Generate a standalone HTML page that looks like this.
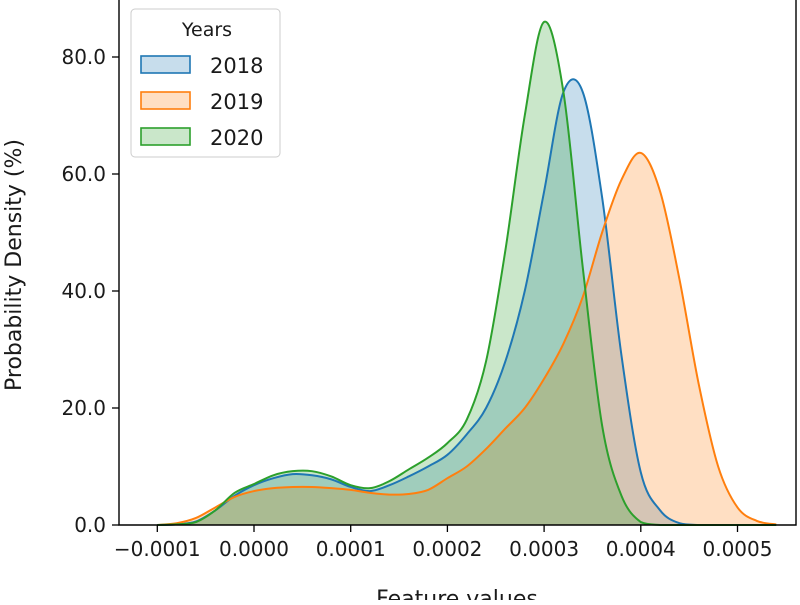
<!DOCTYPE html>
<html><head><meta charset="utf-8"><style>
body{margin:0;background:#fff}
svg{font-family:"DejaVu Sans","Liberation Sans",sans-serif}
</style></head><body>
<svg id="chart" width="800" height="600" viewBox="0 0 800 600" xmlns="http://www.w3.org/2000/svg">
<g id="plot"></g>
<g id="axes"></g>
<g id="legend"></g>
</svg>
<script>
const xGrid = [-10,-8,-6,-4,-2,0,2,4,6,8,10,12,14,16,18,20,22,24,26,28,30,32,34,36,38,40,42,44,46,48,50,52,54];
const s2018 = [0,0.1,0.6,2.5,5,6.8,8,8.7,8.5,7.8,6.5,5.8,6.8,8.3,10,12,15.5,20,28,40,57,74,74,56,29,9,2.5,0.3,0,0,0,0,0];
const s2019 = [0,0.3,1.2,3,4.8,5.8,6.3,6.5,6.5,6.3,6,5.5,5.2,5.3,6,8,10,13,16.5,20,25,31,39,50,59,63.6,57,42,24,10,3,0.7,0.1];
const s2020 = [0,0.1,0.5,2.5,5.5,7,8.5,9.2,9.2,8.3,6.8,6.3,7.5,9.5,11.5,14,18,28,47,70,86,74,44,17,5,0.5,0,0,0,0,0,0,0];
const yTicks = [0,20,40,60,80];
const yTickLabels = ["0.0","20.0","40.0","60.0","80.0"];
const xTicks = [-1,0,1,2,3,4,5];
const xTickLabels = ["\u22120.0001","0.0000","0.0001","0.0002","0.0003","0.0004","0.0005"];
const seriesNames = ["2018","2019","2020"];
const colors = ["#1f77b4","#ff7f0e","#2ca02c"];

const X0=254, PX=96.7, Y0=525, PY=5.85, L=119, R=796, B=525;
const xs = k => X0 + PX*k/10;
const xt = t => X0 + PX*t;
const ys = v => Y0 - PY*v;
const NS="http://www.w3.org/2000/svg";
function mk(tag, attrs, parent){const e=document.createElementNS(NS,tag);for(const a in attrs)e.setAttribute(a,attrs[a]);parent.appendChild(e);return e;}

function pathFor(vals){
  const p = xGrid.map((k,i)=>[xs(k),ys(vals[i])]);
  let d=`M${p[0][0]},${p[0][1]}`;
  for(let i=0;i<p.length-1;i++){
    const p0=p[Math.max(0,i-1)],p1=p[i],p2=p[i+1],p3=p[Math.min(p.length-1,i+2)];
    let c1y=p1[1]+(p2[1]-p0[1])/6, c2y=p2[1]-(p3[1]-p1[1])/6;
    c1y=Math.min(c1y,Y0); c2y=Math.min(c2y,Y0);
    d+=` C${p1[0]+(p2[0]-p0[0])/6},${c1y} ${p2[0]-(p3[0]-p1[0])/6},${c2y} ${p2[0]},${p2[1]}`;
  }
  return d;
}
const plot=document.getElementById('plot');
const all=[s2018,s2019,s2020];
all.forEach((vals,i)=>{
  const d=pathFor(vals);
  const f=mk('path',{d:d+` L${xs(xGrid[xGrid.length-1])},${Y0} L${xs(xGrid[0])},${Y0} Z`,fill:colors[i],'fill-opacity':0.25,stroke:'none'},plot);
  
  
});
all.forEach((vals,i)=>{
  const l=mk('path',{d:pathFor(vals),fill:'none',stroke:colors[i],'stroke-width':2},plot);
  
  
});

const axes=document.getElementById('axes');
const sp=mk('path',{d:`M${L},0 L${L},${B} L${R},${B} L${R},0`,fill:'none',stroke:'#000','stroke-width':1.4},axes);


yTicks.forEach((v,i)=>{
  mk('line',{x1:L-7,x2:L,y1:ys(v),y2:ys(v),stroke:'#000','stroke-width':1.3},axes);
  const t=mk('text',{x:L-13,y:ys(v)+7,'text-anchor':'end','font-size':20,fill:'#1a1a1a'},axes);
  t.textContent=yTickLabels[i];
  
  
});
xTicks.forEach((v,i)=>{
  mk('line',{x1:xt(v),x2:xt(v),y1:B,y2:B+7,stroke:'#000','stroke-width':1.3},axes);
  const t=mk('text',{x:xt(v),y:B+31,'text-anchor':'middle','font-size':20,fill:'#1a1a1a'},axes);
  t.textContent=xTickLabels[i];
  
  
});
const xl=mk('text',{x:457,y:606,'text-anchor':'middle','font-size':22,fill:'#1a1a1a'},axes);
xl.textContent='Feature values';


const yl=mk('text',{x:0,y:0,transform:'translate(21,265) rotate(-90)','text-anchor':'middle','font-size':22,fill:'#1a1a1a'},axes);
yl.textContent='Probability Density (%)';



const lg=document.getElementById('legend');
const box=mk('rect',{x:131,y:9,width:149,height:148,rx:4,fill:'#fff','fill-opacity':0.85,stroke:'#ccc','stroke-width':1},lg);


const lt=mk('text',{x:207,y:36,'text-anchor':'middle','font-size':19,fill:'#1a1a1a'},lg);
lt.textContent='Years';


seriesNames.forEach((n,i)=>{
  const y=56+i*36;
  const sw=mk('rect',{x:141,y:y,width:49,height:17,fill:colors[i],'fill-opacity':0.25,stroke:colors[i],'stroke-width':1.6},lg);
  
  
  const t=mk('text',{x:210,y:y+17,'font-size':21,fill:'#1a1a1a'},lg);
  t.textContent=n;
  
  
});
</script>
</body></html>
